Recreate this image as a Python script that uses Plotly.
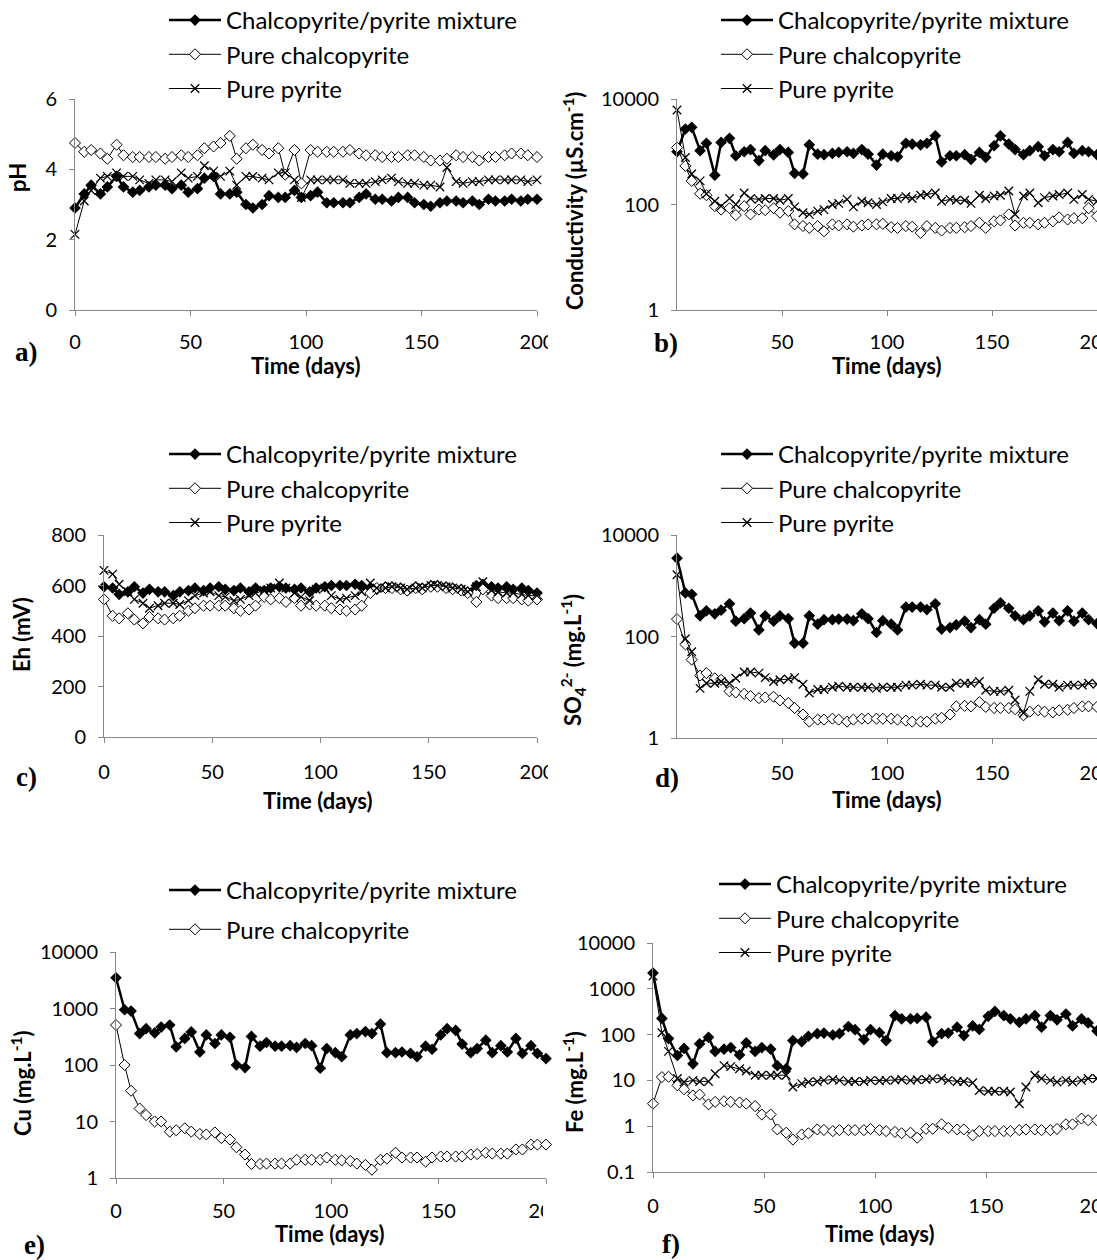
import plotly.graph_objects as go

W, H = 1097, 1260

# sampling days (shared by every series)
days = [0, 4, 7, 11, 14, 18, 21, 25, 28, 32,
        35, 39, 42, 46, 49, 53, 56, 60, 63, 67,
        70, 74, 77, 81, 84, 88, 91, 95, 98, 102,
        105, 109, 112, 116, 119, 123, 126, 130, 133, 137,
        140, 144, 147, 151, 154, 158, 161, 165, 168, 172,
        175, 179, 182, 186, 189, 193, 196, 200]

# a) pH
ph_mix = [2.9, 3.3, 3.55, 3.3, 3.5, 3.8, 3.5, 3.35, 3.4, 3.5,
          3.55, 3.55, 3.45, 3.55, 3.35, 3.45, 3.75, 3.8, 3.3, 3.3,
          3.35, 3.0, 2.9, 3.0, 3.25, 3.2, 3.2, 3.4, 3.2, 3.25,
          3.35, 3.05, 3.05, 3.05, 3.05, 3.2, 3.3, 3.15, 3.15, 3.1,
          3.2, 3.2, 3.05, 3.0, 2.95, 3.05, 3.1, 3.1, 3.05, 3.1,
          3.0, 3.15, 3.1, 3.1, 3.15, 3.1, 3.15, 3.15]
ph_cpy = [4.75, 4.5, 4.55, 4.45, 4.3, 4.7, 4.4, 4.35, 4.35, 4.35,
          4.35, 4.3, 4.35, 4.4, 4.35, 4.4, 4.6, 4.65, 4.75, 4.95,
          4.3, 4.6, 4.7, 4.55, 4.45, 4.6, 3.85, 4.55, 3.6, 4.55,
          4.5, 4.5, 4.5, 4.5, 4.55, 4.45, 4.4, 4.4, 4.35, 4.35,
          4.35, 4.4, 4.4, 4.35, 4.25, 4.25, 4.3, 4.4, 4.35, 4.35,
          4.25, 4.35, 4.35, 4.4, 4.45, 4.45, 4.4, 4.35]
ph_py = [2.15, 3.1, 3.4, 3.75, 3.8, 3.9, 3.8, 3.8, 3.7, 3.6,
         3.7, 3.7, 3.65, 3.9, 3.75, 3.8, 4.1, 3.95, 3.8, 3.95,
         3.55, 3.8, 3.8, 3.75, 3.7, 3.9, 3.9, 3.7, 3.2, 3.7,
         3.7, 3.7, 3.7, 3.7, 3.6, 3.6, 3.6, 3.65, 3.7, 3.75,
         3.65, 3.6, 3.6, 3.55, 3.55, 3.5, 4.05, 3.65, 3.6, 3.65,
         3.65, 3.7, 3.7, 3.7, 3.7, 3.7, 3.65, 3.7]

# b) conductivity (uS/cm)
ec_mix = [1000, 2700, 2900, 1050, 1450, 360, 1500, 1800, 840, 1000,
          1100, 680, 1050, 870, 1100, 970, 390, 380, 1350, 900,
          880, 930, 970, 1000, 930, 1100, 900, 560, 900, 840,
          800, 1450, 1400, 1350, 1450, 2000, 640, 840, 840, 880,
          720, 970, 780, 1300, 2000, 1400, 1100, 880, 1050, 1250,
          840, 1100, 1000, 1500, 930, 1050, 1000, 880]
ec_cpy = [1200, 540, 280, 160, 150, 93, 80, 85, 63, 93,
          65, 80, 78, 85, 70, 75, 42, 39, 36, 39,
          31, 42, 40, 42, 38, 40, 42, 42, 43, 37,
          36, 39, 38, 29, 39, 36, 32, 36, 36, 37,
          39, 45, 36, 48, 50, 65, 40, 45, 45, 42,
          45, 48, 57, 52, 55, 55, 85, 60]
ec_py = [6200, 780, 380, 280, 160, 115, 93, 130, 100, 165,
         130, 125, 130, 130, 120, 130, 90, 70, 65, 75,
         80, 100, 105, 125, 90, 115, 108, 100, 112, 130,
         130, 140, 130, 150, 155, 165, 115, 125, 120, 120,
         105, 150, 130, 145, 150, 180, 65, 145, 165, 108,
         135, 145, 155, 165, 125, 155, 125, 115]

# c) Eh (mV)
eh_mix = [595, 590, 565, 575, 595, 570, 585, 575, 575, 560,
          575, 580, 590, 580, 590, 595, 585, 580, 590, 575,
          590, 580, 590, 595, 590, 585, 590, 575, 590, 595,
          600, 600, 600, 605, 600, 590, 585, 595, 595, 590,
          580, 595, 590, 600, 600, 595, 590, 585, 575, 600,
          605, 595, 590, 595, 585, 590, 580, 570]
eh_cpy = [545, 480, 470, 490, 465, 450, 475, 470, 465, 470,
          480, 500, 510, 520, 520, 520, 520, 510, 500, 505,
          520, 555, 545, 550, 535, 550, 520, 525, 520, 520,
          510, 505, 500, 505, 520, 570, 590, 590, 590, 585,
          580, 590, 585, 595, 595, 590, 585, 580, 570, 535,
          585, 560, 550, 550, 550, 545, 540, 545]
eh_py = [660, 645, 605, 575, 545, 530, 510, 520, 530, 530,
         525, 540, 560, 570, 575, 560, 555, 540, 545, 560,
         570, 580, 590, 610, 590, 570, 555, 540, 585, 590,
         560, 545, 550, 560, 575, 610, 590, 590, 595, 590,
         585, 590, 590, 600, 600, 595, 590, 585, 575, 595,
         615, 580, 575, 570, 570, 565, 560, 560]

# d) sulphate (mg/L)
so4_mix = [3500, 720, 680, 255, 320, 280, 330, 440, 200, 225,
           290, 135, 255, 200, 255, 225, 74, 74, 255, 175,
           215, 215, 220, 220, 205, 280, 225, 120, 205, 175,
           135, 380, 380, 380, 340, 440, 140, 150, 170, 200,
           150, 215, 175, 360, 460, 360, 255, 215, 255, 320,
           195, 290, 205, 320, 200, 290, 215, 180]
so4_cpy = [220, 70, 35, 17, 19, 15, 14, 8.3, 7.9, 7.4,
           6.7, 6.1, 6.3, 6.5, 5.5, 4.9, 3.9, 2.9, 2.1, 2.3,
           2.3, 2.4, 2.3, 2.1, 2.3, 2.4, 2.4, 2.4, 2.4, 2.4,
           2.3, 2.2, 2.1, 2.1, 2.1, 2.4, 2.5, 2.9, 4.2, 4.3,
           4.2, 5.1, 4.1, 3.9, 3.9, 3.9, 3.7, 2.8, 3.3, 3.5,
           3.3, 3.2, 3.5, 3.6, 3.9, 4.2, 4.2, 4.1]
so4_py = [1650, 90, 50, 9.5, 12, 12, 13, 12, 15, 20,
          20, 19, 15.5, 13, 14, 14.5, 15.5, 11.5, 7.7, 9,
          9, 10, 10.5, 10, 10, 10, 10, 9.5, 10, 10,
          10, 11, 11, 11.5, 11, 11, 10, 10, 12, 12,
          12, 13, 8.7, 8.3, 8.3, 8.7, 5.6, 3.1, 8.3, 14,
          11.5, 11.5, 10, 11, 11, 11, 12, 11.5]

# e) copper (mg/L)
cu_mix = [3500, 950, 900, 360, 440, 370, 470, 510, 210, 295,
          385, 170, 340, 240, 340, 310, 100, 90, 320, 215,
          250, 215, 215, 220, 205, 240, 220, 88, 195, 165,
          140, 340, 360, 390, 360, 530, 165, 165, 170, 160,
          140, 215, 190, 340, 440, 410, 235, 165, 195, 275,
          165, 220, 170, 295, 160, 220, 160, 130]
cu_cpy = [510, 100, 35, 17, 13, 10, 10, 6.6, 7, 7.6,
          6.6, 6.0, 5.9, 6.4, 5.1, 4.8, 3.5, 2.6, 1.77, 1.77,
          1.8, 1.8, 1.8, 1.8, 2.1, 2.1, 2.1, 2.1, 2.3, 2.1,
          2.05, 2.0, 1.8, 1.7, 1.4, 2.1, 2.2, 2.8, 2.3, 2.3,
          2.3, 1.95, 2.3, 2.4, 2.4, 2.4, 2.4, 2.6, 2.65, 2.8,
          2.7, 2.7, 2.7, 3.2, 3.2, 3.9, 3.9, 3.9]

# f) iron (mg/L)
fe_mix = [2200, 225, 82, 35, 50, 23, 63, 87, 43, 48,
          52, 36, 66, 43, 52, 48, 21, 18, 74, 70,
          92, 105, 108, 98, 105, 150, 128, 78, 128, 110,
          74, 260, 220, 220, 225, 240, 70, 105, 108, 145,
          95, 155, 130, 250, 320, 260, 220, 185, 220, 260,
          145, 260, 210, 280, 155, 220, 180, 120]
fe_cpy = [3.1, 11.8, 12, 7.8, 6.4, 4.7, 4.9, 3.0, 3.4, 3.5,
          3.4, 3.3, 3.1, 2.75, 1.8, 1.8, 0.85, 0.72, 0.51, 0.66,
          0.7, 0.85, 0.83, 0.78, 0.82, 0.82, 0.82, 0.82, 0.87, 0.82,
          0.78, 0.75, 0.7, 0.72, 0.56, 0.88, 0.88, 1.1, 0.92, 0.85,
          0.85, 0.63, 0.78, 0.78, 0.78, 0.78, 0.78, 0.82, 0.85, 0.85,
          0.82, 0.82, 0.87, 1.1, 1.1, 1.47, 1.35, 1.35]
fe_py = [1900, 110, 43, 11, 9.2, 10, 9.5, 9.5, 14, 21,
         20, 18, 16, 13, 13, 13, 13, 13, 7.2, 8.5,
         9.2, 9.5, 10, 10.5, 10, 9.5, 9.5, 9.5, 10, 9.8,
         10, 10.2, 10.5, 10, 10.3, 10.5, 10.8, 11, 10, 9.5,
         9.5, 8.9, 6, 5.8, 5.8, 5.8, 5.6, 3.1, 7.2, 13,
         11, 10, 9.2, 10, 9.2, 10, 11, 11]

names = ['Chalcopyrite/pyrite mixture', 'Pure chalcopyrite', 'Pure pyrite']
styles = [
    dict(line=dict(color='black', width=2.5),
         marker=dict(symbol='diamond', size=9, color='black')),
    dict(line=dict(color='black', width=1),
         marker=dict(symbol='diamond', size=8.5, color='white', line=dict(color='black', width=1))),
    dict(line=dict(color='black', width=1),
         marker=dict(symbol='x-thin', size=8.5, line=dict(color='black', width=1.3))),
]


def px(x):
    return x / W


def py(y):
    return 1 - y / H


# panel geometry in pixels: x domain, y domain, legend position, labels
panels = [
    dict(series=[ph_mix, ph_cpy, ph_py], xd=(75, 537), yd=(99, 310), log=False,
         yrange=[0, 6], yticks=[0, 2, 4, 6], ytext=['0', '2', '4', '6'], stand=9,
         leg=(164, -2), gap=0, letter='a)', lpos=(26, 352), title='<b>pH</b>', tpos=(18, 178),
         xtitle=(306, 365), show0=True),
    dict(series=[ec_mix, ec_cpy, ec_py], xd=(677, 1097), yd=(99, 310), log=True,
         yrange=[0, 4], yticks=[1, 100, 10000], ytext=['1', '100', '10000'], stand=9,
         leg=(716, -2), gap=0, letter='b)', lpos=(666, 343),
         title='<b>Conductivity (µS.cm<sup>-1</sup>)</b>', tpos=(574, 201),
         xtitle=(887, 365), show0=False),
    dict(series=[eh_mix, eh_cpy, eh_py], xd=(104, 537), yd=(535, 737), log=False,
         yrange=[0, 800], yticks=[0, 200, 400, 600, 800], ytext=['0', '200', '400', '600', '800'],
         stand=12, leg=(164, 432), gap=0, letter='c)', lpos=(26, 777), title='<b>Eh (mV)</b>',
         tpos=(21, 635), xtitle=(318, 800), show0=True),
    dict(series=[so4_mix, so4_cpy, so4_py], xd=(677, 1097), yd=(535, 738), log=True,
         yrange=[0, 4], yticks=[1, 100, 10000], ytext=['1', '100', '10000'], stand=12,
         leg=(716, 432), gap=0, letter='d)', lpos=(667, 778),
         title='<b>SO<sub>4</sub><sup>2-</sup> (mg.L<sup>-1</sup>)</b>', tpos=(573, 660),
         xtitle=(887, 799), show0=False),
    dict(series=[cu_mix, cu_cpy], xd=(116, 546), yd=(952, 1178), log=True,
         yrange=[0, 4], yticks=[1, 10, 100, 1000, 10000], ytext=['1', '10', '100', '1000', '10000'],
         stand=10, leg=(164, 868), gap=5, letter='e)', lpos=(34, 1245),
         title='<b>Cu (mg.L<sup>-1</sup>)</b>', tpos=(21, 1083), xtitle=(330, 1233), show0=True),
    dict(series=[fe_mix, fe_cpy, fe_py], xd=(653, 1097), yd=(943, 1172), log=True,
         yrange=[-1, 4], yticks=[0.1, 1, 10, 100, 1000, 10000],
         ytext=['0.1', '1', '10', '100', '1000', '10000'], stand=11,
         leg=(714, 862), gap=0, letter='f)', lpos=(671, 1244),
         title='<b>Fe (mg.L<sup>-1</sup>)</b>', tpos=(573, 1082), xtitle=(880, 1233), show0=True),
]

fig = go.Figure()
layout = dict(width=W, height=H, autosize=False, margin=dict(l=0, r=0, t=0, b=0, autoexpand=False),
              paper_bgcolor='white', plot_bgcolor='white', showlegend=True)
annotations = []
tick_font = dict(family='Lato', size=20, color='black')
axis_common = dict(showline=True, linecolor='#868686', linewidth=1, ticks='outside', ticklen=5,
                   tickcolor='#868686', showgrid=False, zeroline=False, tickfont=tick_font,
                   ticklabeloverflow='allow')

for i, p in enumerate(panels):
    k = '' if i == 0 else str(i + 1)
    leg_name = 'legend' + k
    for j, vals in enumerate(p['series']):
        fig.add_trace(go.Scatter(x=days, y=vals, mode='lines+markers', name=names[j],
                                 xaxis='x' + k, yaxis='y' + k, legend=leg_name,
                                 legendgroup='g%d_%d' % (i, j),
                                 cliponaxis=False, **styles[j]))
    xvals = [0, 50, 100, 150, 200] if p['show0'] else [50, 100, 150, 200]
    layout['xaxis' + k] = dict(axis_common, domain=[px(p['xd'][0]), px(p['xd'][1])], anchor='y' + k,
                               range=[0, 200], tickvals=xvals, ticklabelstandoff=p['stand'])
    ya = dict(axis_common, domain=[py(p['yd'][1]), py(p['yd'][0])], anchor='x' + k,
              tickvals=p['yticks'], ticktext=p['ytext'], ticklabelstandoff=8)
    if p['log']:
        ya.update(type='log', range=p['yrange'])
    else:
        ya.update(range=p['yrange'])
    layout['yaxis' + k] = ya
    layout[leg_name] = dict(x=px(p['leg'][0]), y=py(p['leg'][1]), xanchor='left', yanchor='top',
                            bgcolor='rgba(0,0,0,0)', itemwidth=52, tracegroupgap=p['gap'],
                            font=dict(family='Lato', size=24, color='black'))
    annotations.append(dict(text='<b>' + p['letter'] + '</b>', x=px(p['lpos'][0]), y=py(p['lpos'][1]),
                            font=dict(family='Liberation Serif', size=27, color='black'),
                            bgcolor='white'))
    annotations.append(dict(text=p['title'], x=px(p['tpos'][0]), y=py(p['tpos'][1]), textangle=-90,
                            font=dict(family='Lato', size=22, color='black')))
    annotations.append(dict(text='<b>Time (days)</b>', x=px(p['xtitle'][0]), y=py(p['xtitle'][1]),
                            font=dict(family='Lato', size=22, color='black')))

for a in annotations:
    a.update(xref='paper', yref='paper', showarrow=False, xanchor='center', yanchor='middle')

# the left-hand charts were cut just after their last tick label
shapes = []
for x0, y0, y1 in [(548, 322, 356), (548, 756, 790), (543, 1192, 1224)]:
    shapes.append(dict(type='rect', xref='paper', yref='paper', x0=px(x0), x1=px(600),
                       y0=py(y1), y1=py(y0), fillcolor='white', line=dict(width=0), layer='above'))

layout['annotations'] = annotations
layout['shapes'] = shapes
fig.update_layout(**layout)

# keep the page exactly the figure's size (no body margin, nothing spilling out)
page_js = ("document.body.style.margin='0';"
           "document.body.style.overflow='hidden';"
           "document.documentElement.style.overflow='hidden';"
           "document.querySelectorAll('.main-svg').forEach(function(s){s.style.overflow='hidden';});")
fig.write_html('out.html', config={'displayModeBar': False}, post_script=page_js)
